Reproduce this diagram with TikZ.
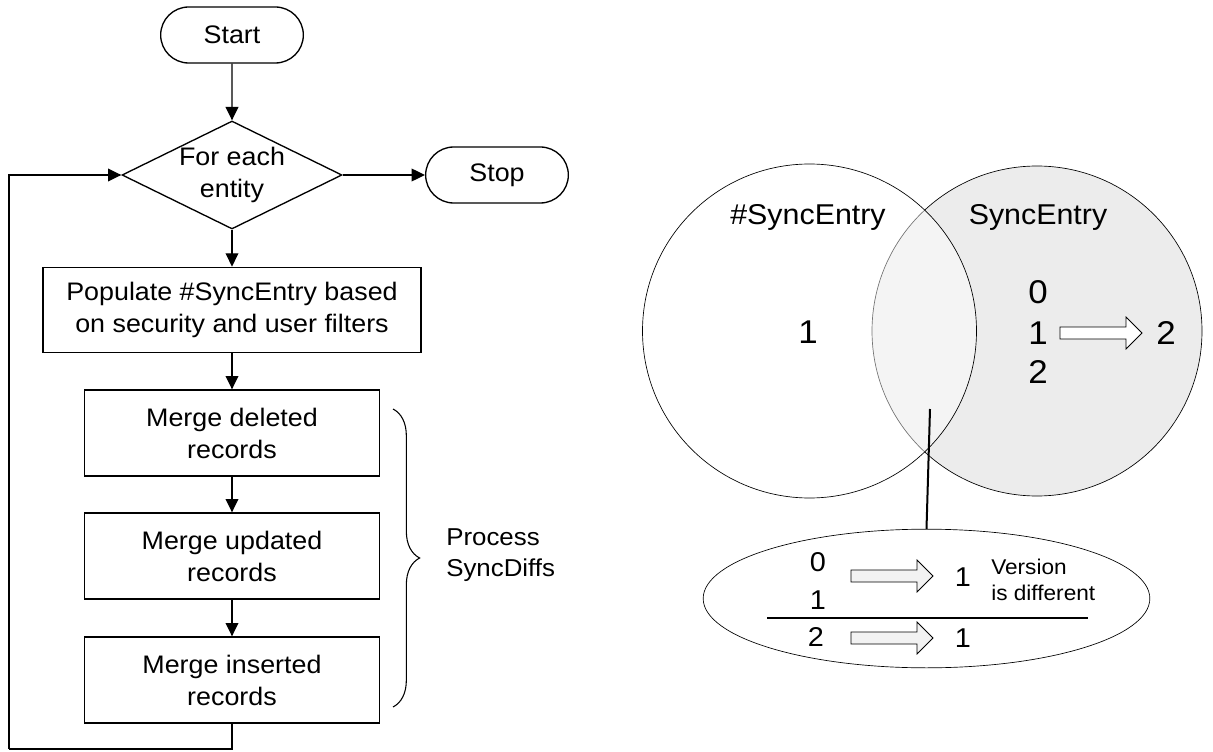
\documentclass[tikz,border=0pt]{standalone}
\usepackage{fontspec}
\setmainfont{Liberation Sans}[FakeStretch=1.06]
\usetikzlibrary{shapes.geometric,shapes.misc,arrows.meta,decorations.pathreplacing}

\definecolor{setgray}{RGB}{236,236,236}
\definecolor{arrowgray}{RGB}{242,242,242}

% hollow block arrow, 82 units long
\tikzset{pics/fatarrow/.style={code={
  \draw[line width=0.6pt,fill=#1] (0,-6)--(66,-6)--(66,-16)--(82,0)--(66,16)--(66,6)--(0,6)--cycle;}}}

\begin{document}
\begin{tikzpicture}[x=0.75pt,y=0.75pt,>={Triangle[length=10pt,width=9.5pt]},
    every node/.style={font=\fontsize{19}{24}\selectfont,inner sep=0pt},
    flow/.style={line width=1pt},
    term/.style={draw,flow,rounded rectangle,minimum width=107pt,minimum height=42pt},
    stepbox/.style={draw,flow,rectangle,align=center,minimum width=221pt,minimum height=64.5pt},
    digit/.style={font=\fontsize{24.7}{29}\selectfont},
    small digit/.style={font=\fontsize{20.4}{24}\selectfont}]
    \useasboundingbox (0,0) rectangle (1213,751);

    % flow chart
    \node[term] (start) at (232,716) {Start};
    \node[draw,flow,diamond,aspect=2.04,minimum width=165pt,minimum height=81pt,align=center] (each) at (232,576) {For each\\entity};
    \node[term] (stop) at (497,576) {Stop};
    \node[stepbox,minimum width=283.5pt,minimum height=64pt] (populate) at (232,441) {Populate \#SyncEntry based\\on security and user filters};
    \node[stepbox] (del) at (232,318) {Merge deleted\\records};
    \node[stepbox] (upd) at (232,195) {Merge updated\\records};
    \node[stepbox] (ins) at (232,71) {Merge inserted\\records};
    \coordinate (back) at (9,2);

    \draw[flow,->] (start)--(each);
    \draw[flow,->] (each)--(stop);
    \draw[flow,->] (each)--(populate);
    \draw[flow,->] (populate)--(del);
    \draw[flow,->] (del)--(upd);
    \draw[flow,->] (upd)--(ins);
    \draw[flow] (ins.south) |- (back);
    \draw[flow,->] (back) |- (each.west);

    \draw[line width=0.8pt,decorate,decoration={brace,amplitude=20pt}] (393,342)--(393,44);
    \node[anchor=west,align=left,font=\fontsize{18.3}{23}\selectfont] (diffs) at (446,196) {Process\\SyncDiffs};

    % sets
    \draw[line width=0.5pt,fill=setgray] (1037,420) circle [radius=165];
    \draw[line width=0.5pt,fill=white,fill opacity=0.45] (809.5,420) circle [radius=167];
    \node[anchor=base,font=\fontsize{21.5}{26}\selectfont] (tmp) at (808,526) {\#SyncEntry};
    \node[anchor=base,font=\fontsize{21.5}{26}\selectfont] (sync) at (1038,526) {SyncEntry};
    \node[digit] (t1) at (808,419) {1};
    \node[digit] (s0) at (1038,459) {0};
    \node[digit] (s1) at (1038,418) {1};
    \node[digit] (s2) at (1038,379) {2};
    \pic at (1060,418) {fatarrow=white};
    \node[digit] (snew) at (1166,418) {2};

    % detail of the overlap
    \node[draw,line width=0.5pt,ellipse,minimum width=335pt,minimum height=104pt] (detail) at (926.5,152.5) {};
    \coordinate (lens) at (930,342);
    \draw[line width=1.5pt] (lens)--(detail.north);
    \node[small digit] (d0) at (818,189) {0};
    \node[small digit] (d1) at (818,151) {1};
    \node[small digit] (d2) at (816,114) {2};
    \draw[line width=0.8pt] (767,133)--(1088,133);
    \pic at (851,175) {fatarrow=arrowgray};
    \pic at (851,113) {fatarrow=arrowgray};
    \node[small digit] (n1) at (963,174) {1};
    \node[small digit] (n2) at (963,113) {1};
    \node[anchor=west,align=left,font=\fontsize{16}{19.5}\selectfont] (note) at (991,171) {Version\\is different};
\end{tikzpicture}
\end{document}
